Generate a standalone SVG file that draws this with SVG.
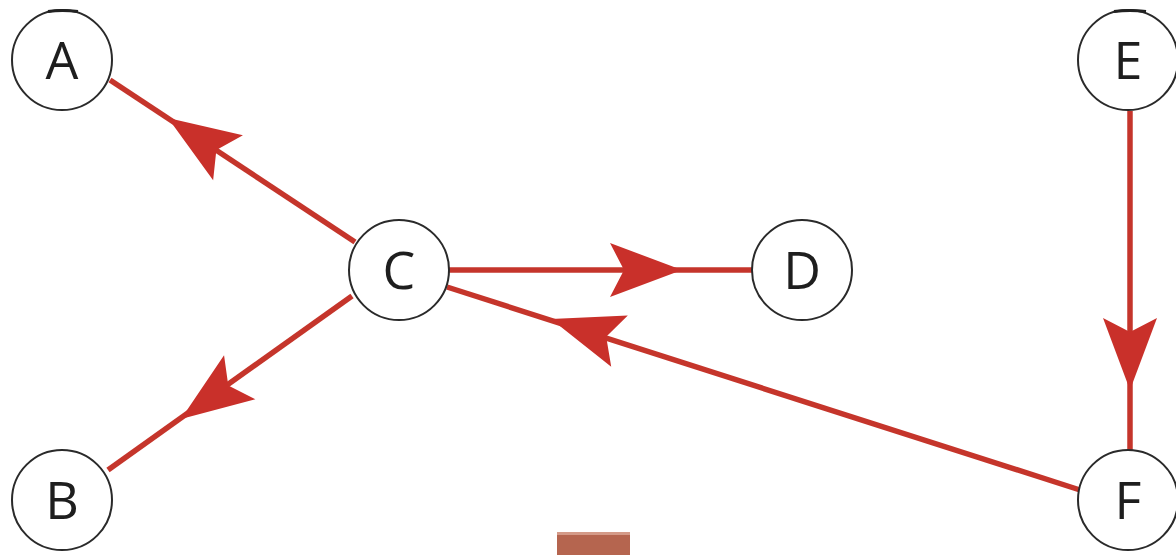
<svg xmlns="http://www.w3.org/2000/svg" width="1176" height="555" viewBox="0 0 1176 555">
<style>
.node circle{fill:#fff;stroke:#2a2a2a;stroke-width:2}
.node text{font-family:"Open Sans","Liberation Sans",sans-serif;font-size:52px;fill:#1e1e1e;text-anchor:middle}
.edge{stroke:#c5352b;stroke-width:5.5;fill:none;stroke-linecap:butt}
.ah{fill:#c9302a}
.mark{stroke:#222;stroke-width:3;fill:none}
</style>
<defs>
<path id="head" d="M0,0 L-72,-27 L-58,0 L-72,27 Z"/>
</defs>
<rect width="1176" height="555" fill="#fff"/>
<g id="connectors">
<line class="edge" x1="110" y1="80" x2="355" y2="242"/>
<line class="edge" x1="352" y1="296" x2="108" y2="470"/>
<line class="edge" x1="449" y1="270" x2="752" y2="270"/>
<line class="edge" x1="447" y1="287" x2="1080" y2="490"/>
<line class="edge" x1="1130" y1="111" x2="1130" y2="450"/>
<use href="#head" class="ah" transform="translate(168,118) rotate(213.5)"/>
<use href="#head" class="ah" transform="translate(181,419) rotate(144.6)"/>
<use href="#head" class="ah" transform="translate(682,270)"/>
<use href="#head" class="ah" transform="translate(551,319) rotate(197.9)"/>
<use href="#head" class="ah" transform="translate(1130,390) rotate(90)"/>
</g>
<g id="node-A" class="node"><circle cx="62" cy="60" r="50"/><path class="mark" d="M48,11.5 Q62,9.5 78,11.5"/><text x="62" y="79">A</text></g>
<g id="node-E" class="node"><circle cx="1128" cy="60" r="50"/><path class="mark" d="M1114,11.5 Q1130,9.5 1146,11.5"/><text x="1128" y="79">E</text></g>
<g id="node-C" class="node"><circle cx="399" cy="270" r="50"/><text x="399" y="289">C</text></g>
<g id="node-D" class="node"><circle cx="802" cy="270" r="50"/><text x="802" y="289">D</text></g>
<g id="node-B" class="node"><circle cx="62" cy="500" r="50"/><text x="62" y="519">B</text></g>
<g id="node-F" class="node"><circle cx="1128" cy="500" r="50"/><text x="1128" y="519">F</text></g>
<rect x="557" y="532" width="73" height="23" fill="#b5654f"/>
<rect x="557" y="532" width="73" height="3" fill="#d49a88"/>
</svg>
